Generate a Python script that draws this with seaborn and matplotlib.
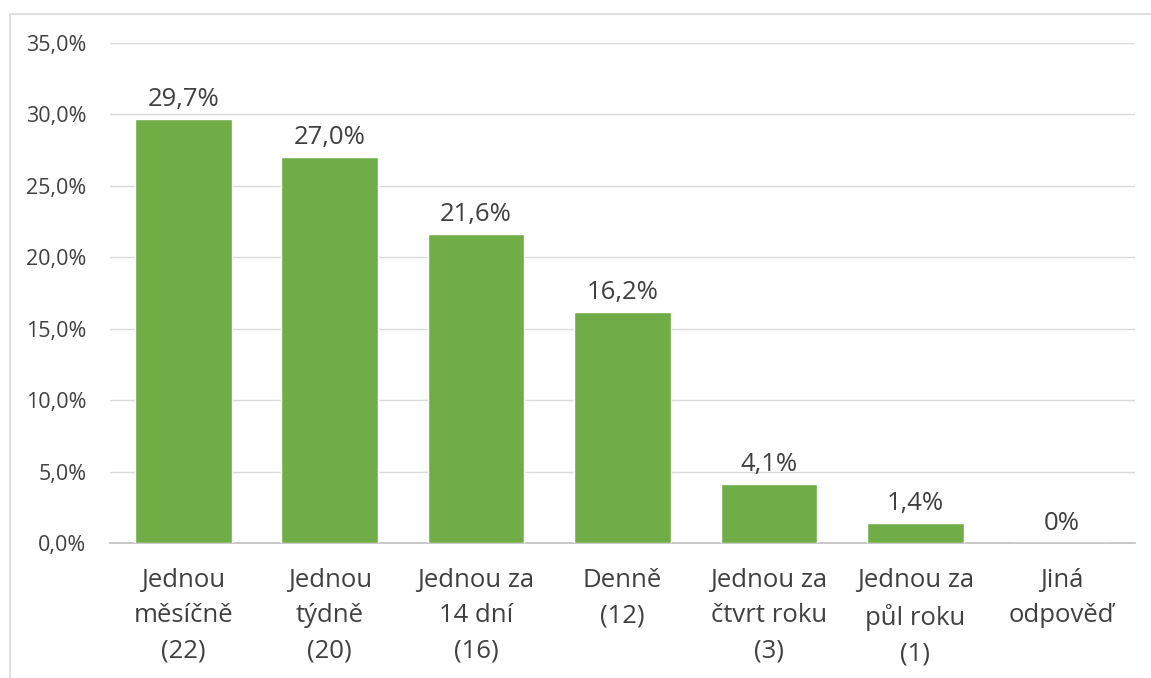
import matplotlib
matplotlib.use("Agg")
import matplotlib.pyplot as plt
from matplotlib.lines import Line2D
from matplotlib.ticker import FuncFormatter
import seaborn as sns
import pandas as pd

categories = [
    "Jednou\nměsíčně\n(22)",
    "Jednou\ntýdně\n(20)",
    "Jednou za\n14 dní\n(16)",
    "Denně\n(12)",
    "Jednou za\nčtvrt roku\n(3)",
    "Jednou za\npůl roku\n(1)",
    "Jiná\nodpověď",
]
values = [29.7, 27.0, 21.6, 16.2, 4.1, 1.4, 0.0]
value_labels = ["29,7%", "27,0%", "21,6%", "16,2%", "4,1%", "1,4%", "0%"]
y_ticks = [0, 5, 10, 15, 20, 25, 30, 35]

sns.set_theme(style="white")
plt.rcParams["font.family"] = ["Open Sans", "DejaVu Sans"]

text_color = "#404040"
grid_color = "#D9D9D9"
bar_color = "#70AD47"

df = pd.DataFrame({"kategorie": categories, "podil": values})

fig = plt.figure(figsize=(11.51, 6.78), dpi=100)
ax = fig.add_axes([110 / 1151, 1 - 543 / 678, (1135 - 110) / 1151, (543 - 43) / 678])

sns.barplot(data=df, x="kategorie", y="podil", color=bar_color, saturation=1,
            width=0.66, ax=ax, zorder=3)

ax.set_ylim(0, 35)
ax.set_xlim(-0.5, len(categories) - 0.5)
ax.set_yticks(y_ticks)
ax.yaxis.set_major_formatter(FuncFormatter(lambda v, p: f"{v:.1f}".replace(".", ",") + "%"))
ax.grid(axis="y", color=grid_color, linewidth=1.0, zorder=0)
ax.set_axisbelow(True)
ax.set_xlabel("")
ax.set_ylabel("")

for side in ["top", "right", "left"]:
    ax.spines[side].set_visible(False)
ax.spines["bottom"].set_color("#BFBFBF")
ax.spines["bottom"].set_linewidth(1.2)

ax.tick_params(axis="y", length=0, pad=17, labelsize=15.5, labelcolor=text_color)
ax.tick_params(axis="x", length=0, pad=18, labelsize=18.5, labelcolor=text_color)
for lbl in ax.get_xticklabels():
    lbl.set_linespacing(1.53)

for patch, lab in zip(ax.patches, value_labels):
    ax.annotate(lab, (patch.get_x() + patch.get_width() / 2, patch.get_height()),
                xytext=(0, 5), textcoords="offset points", ha="center", va="bottom",
                fontsize=18.5, color=text_color)

# chart frame (left and top edges)
fig.add_artist(Line2D([10 / 1151, 10 / 1151], [0, 1 - 14 / 678], transform=fig.transFigure,
                      color=grid_color, linewidth=1.2))
fig.add_artist(Line2D([10 / 1151, 1], [1 - 14 / 678, 1 - 14 / 678], transform=fig.transFigure,
                      color=grid_color, linewidth=1.2))

fig.savefig("out.png", dpi=100, facecolor="white")
